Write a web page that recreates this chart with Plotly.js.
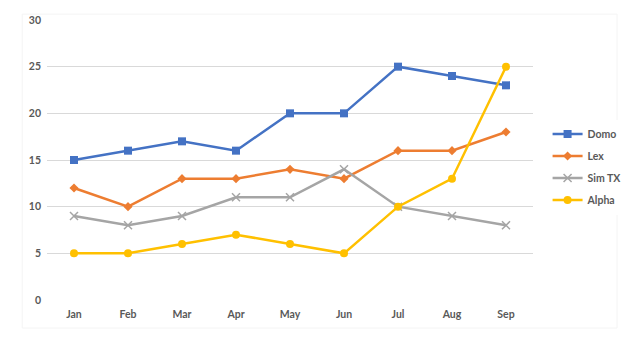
<!DOCTYPE html>
<html>
<head>
<meta charset="utf-8">
<script src="https://cdn.plot.ly/plotly-3.0.1.min.js"></script>
<style>html,body{margin:0;padding:0;background:#fff;}#chart{width:640px;height:351px;}</style>
</head>
<body>
<div id="chart"></div>
<script>
const months = ["Jan","Feb","Mar","Apr","May","Jun","Jul","Aug","Sep"];
const domo  = [15,16,17,16,20,20,25,24,23];
const lex   = [12,10,13,13,14,13,16,16,18];
const simTX = [9,8,9,11,11,14,10,9,8];
const alpha = [5,5,6,7,6,5,10,13,25];

function tr(name, y, color, symbol, size){
  return {x: months, y: y, name: name, legendgroup: name, type: 'scatter', mode: 'lines+markers',
    line: {color: color, width: 2.5},
    marker: {color: color, symbol: symbol, size: size, line: {color: color, width: symbol==='x-thin' ? 1.5 : 0}}};
}
const data = [
  tr('Domo', domo, '#4472C4', 'square', 8),
  tr('Lex', lex, '#ED7D31', 'diamond', 7),
  tr('Sim TX', simTX, '#A5A5A5', 'x-thin', 8),
  tr('Alpha', alpha, '#FFC000', 'circle', 8)
];
const tf = {family: 'Lato, "Open Sans", sans-serif', size: 10.5, color: '#595959', weight: 'bold'};
const layout = {
  width: 640, height: 351,
  margin: {l: 47, r: 107, t: 20, b: 51},
  paper_bgcolor: '#fff', plot_bgcolor: '#fff',
  font: tf,
  showlegend: true,
  legend: {x: 1.03, xanchor: 'left', y: 0.475, yanchor: 'middle', font: tf, tracegroupgap: 3, itemwidth: 30},
  xaxis: {type: 'category', range: [-0.5, 8.5], showgrid: false, zeroline: false, showline: false, ticks: '', ticklabelstandoff: 6, tickfont: tf},
  yaxis: {range: [0, 30], dtick: 5, showgrid: true, gridcolor: '#d9d9d9', gridwidth: 1, zeroline: false, showline: false, ticks: '', ticklabelstandoff: 5, tickfont: tf, fixedrange: true},
  shapes: [{type: 'rect', xref: 'paper', yref: 'paper', x0: -0.051, x1: 1.173, y0: -0.1, y1: 1.021, line: {color: '#f4f4f4', width: 1}, layer: 'below'}]
};
Plotly.newPlot('chart', data, layout, {displayModeBar: false, staticPlot: true});
</script>
</body>
</html>
